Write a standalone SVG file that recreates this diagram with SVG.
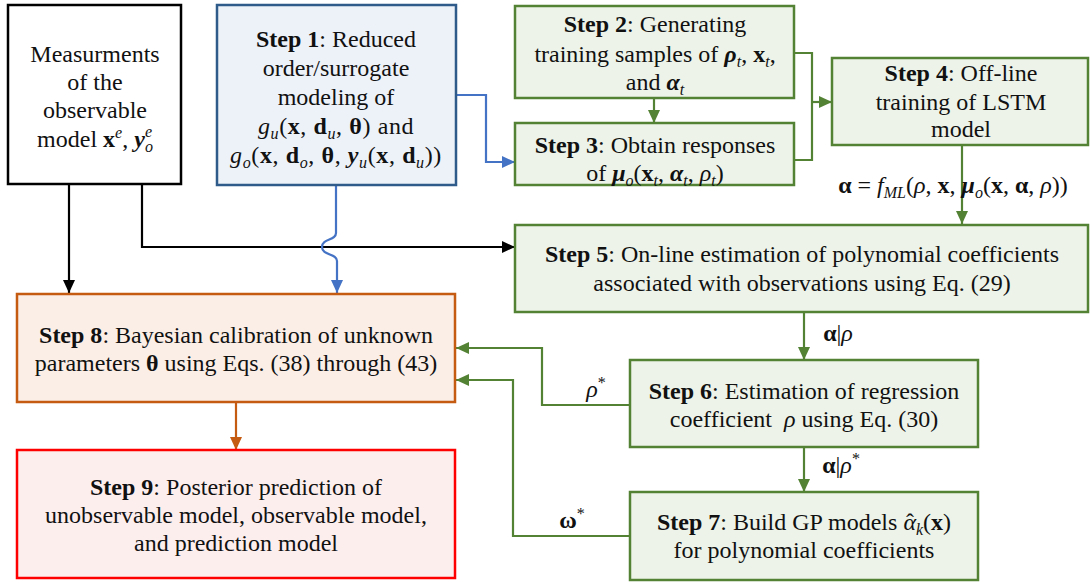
<svg xmlns="http://www.w3.org/2000/svg" width="1090" height="583" viewBox="0 0 1090 583" font-family="'Liberation Serif', Tinos, 'DejaVu Serif', serif">
<style>
text{font-family:'Liberation Serif',Tinos,'DejaVu Serif',serif;font-size:24px;fill:#111;text-anchor:middle}
.b{font-weight:bold}
.i{font-style:italic}
.bi{font-weight:bold;font-style:italic}
.s{font-size:16px}
.box{stroke-width:2.5}
.g{fill:#edf3e9;stroke:#548235}
.conn path{fill:none;stroke-width:2.2}
.k{stroke:#000}
.bl{stroke:#4472c4}
.gr{stroke:#548235}
.or{stroke:#c55a11}
</style>
<defs>
<marker id="ak" markerUnits="userSpaceOnUse" markerWidth="14" markerHeight="12" refX="13" refY="6" orient="auto"><path d="M0,0 L13,6 L0,12 z" fill="#000"/></marker>
<marker id="ab" markerUnits="userSpaceOnUse" markerWidth="14" markerHeight="12" refX="13" refY="6" orient="auto"><path d="M0,0 L13,6 L0,12 z" fill="#4472c4"/></marker>
<marker id="ag" markerUnits="userSpaceOnUse" markerWidth="14" markerHeight="12" refX="13" refY="6" orient="auto"><path d="M0,0 L13,6 L0,12 z" fill="#548235"/></marker>
<marker id="ao" markerUnits="userSpaceOnUse" markerWidth="14" markerHeight="12" refX="13" refY="6" orient="auto"><path d="M0,0 L13,6 L0,12 z" fill="#c55a11"/></marker>
</defs>
<rect width="1090" height="583" fill="#fff"/>

<g id="conn" class="conn">
<path class="k" d="M69,184 L69,293" marker-end="url(#ak)"/>
<path class="k" d="M142,184 L142,247 L515,247" marker-end="url(#ak)"/>
<path class="bl" d="M456,95 L486,95 L486,162 L515,162" marker-end="url(#ab)"/>
<path class="bl" d="M336,185 L336,233 C336,241 322,238 322,247 C322,256 337,253 337,261 L337,293" marker-end="url(#ab)"/>
<path class="gr" d="M654,98 L654,123" marker-end="url(#ag)"/>
<path class="gr" d="M794,53 L812,53 L812,160 L794,160"/>
<path class="gr" d="M812,102 L832,102" marker-end="url(#ag)"/>
<path class="gr" d="M962,145 L962,224" marker-end="url(#ag)"/>
<path class="gr" d="M804,312 L804,360" marker-end="url(#ag)"/>
<path class="gr" d="M804,447 L804,492" marker-end="url(#ag)"/>
<path class="gr" d="M630,405 L542,405 L542,348 L456,348" marker-end="url(#ag)"/>
<path class="gr" d="M630,536 L513,536 L513,380 L456,380" marker-end="url(#ag)"/>
<path class="or" d="M236,402 L236,450" marker-end="url(#ao)"/>
<text x="953" y="193"><tspan class="b">α</tspan> = <tspan class="i">f</tspan><tspan class="i s" baseline-shift="-5">ML</tspan>(<tspan class="i">ρ</tspan>, <tspan class="b">x</tspan>, <tspan class="bi">μ</tspan><tspan class="i s" baseline-shift="-5">o</tspan>(<tspan class="b">x</tspan>, <tspan class="b">α</tspan>, <tspan class="i">ρ</tspan>))</text>
<text x="838" y="341"><tspan class="b">α</tspan>|<tspan class="i">ρ</tspan></text>
<text x="841" y="473"><tspan class="b">α</tspan>|<tspan class="i">ρ</tspan><tspan class="s" baseline-shift="9">*</tspan></text>
<text x="596" y="397"><tspan class="i">ρ</tspan><tspan class="s" baseline-shift="9">*</tspan></text>
<text x="572" y="528"><tspan class="b">ω</tspan><tspan class="s" baseline-shift="9">*</tspan></text>
</g>

<g id="measurements">
<rect x="8" y="5" width="173" height="179" fill="#fff" stroke="#000" class="box"/>
<text x="95" y="62">Measurments</text>
<text x="95" y="90">of the</text>
<text x="95" y="118">observable</text>
<text x="95" y="147">model <tspan class="b">x</tspan><tspan class="i s" baseline-shift="9">e</tspan>, <tspan class="bi">y</tspan><tspan class="i s" baseline-shift="-5">o</tspan><tspan class="i s" dx="-8" baseline-shift="10">e</tspan></text>
</g>

<g id="step1">
<rect x="217" y="5" width="239" height="180" fill="#edf2f9" stroke="#2f5b8a" class="box"/>
<text x="336" y="47"><tspan class="b">Step 1</tspan>: Reduced</text>
<text x="336" y="76">order/surrogate</text>
<text x="336" y="105">modeling of</text>
<text x="336" y="134" letter-spacing="0.6"><tspan class="i">g</tspan><tspan class="i s" baseline-shift="-5">u</tspan>(<tspan class="b">x</tspan>, <tspan class="b">d</tspan><tspan class="i s" baseline-shift="-5">u</tspan>, <tspan class="b">θ</tspan>) and</text>
<text x="336" y="163" letter-spacing="0.6"><tspan class="i">g</tspan><tspan class="i s" baseline-shift="-5">o</tspan>(<tspan class="b">x</tspan>, <tspan class="b">d</tspan><tspan class="i s" baseline-shift="-5">o</tspan>, <tspan class="b">θ</tspan>, <tspan class="bi">y</tspan><tspan class="i s" baseline-shift="-5">u</tspan>(<tspan class="b">x</tspan>, <tspan class="b">d</tspan><tspan class="i s" baseline-shift="-5">u</tspan>))</text>
</g>

<g id="step2">
<rect x="515" y="6" width="279" height="92" class="box g"/>
<text x="655" y="32"><tspan class="b">Step 2</tspan>: Generating</text>
<text x="655" y="62">training samples of <tspan class="bi">ρ</tspan><tspan class="i s" baseline-shift="-5">t</tspan>, <tspan class="b">x</tspan><tspan class="i s" baseline-shift="-5">t</tspan>,</text>
<text x="655" y="90">and <tspan class="bi">α</tspan><tspan class="i s" baseline-shift="-5">t</tspan></text>
</g>

<g id="step3">
<rect x="515" y="123" width="279" height="62" class="box g"/>
<text x="655" y="153"><tspan class="b">Step 3</tspan>: Obtain responses</text>
<text x="655" y="181">of <tspan class="bi">μ</tspan><tspan class="i s" baseline-shift="-5">o</tspan>(<tspan class="b">x</tspan><tspan class="i s" baseline-shift="-5">t</tspan>, <tspan class="bi">α</tspan><tspan class="i s" baseline-shift="-5">t</tspan>, <tspan class="i">ρ</tspan><tspan class="i s" baseline-shift="-5">t</tspan>)</text>
</g>

<g id="step4">
<rect x="832" y="58" width="256" height="87" class="box g"/>
<text x="961" y="81"><tspan class="b">Step 4</tspan>: Off-line</text>
<text x="961" y="110">training of LSTM</text>
<text x="961" y="137">model</text>
</g>

<g id="step5">
<rect x="515" y="225" width="573" height="87" class="box g"/>
<text x="802" y="262"><tspan class="b">Step 5</tspan>: On-line estimation of polynomial coefficients</text>
<text x="802" y="291">associated with observations using Eq. (29)</text>
</g>

<g id="step6">
<rect x="630" y="360" width="348" height="87" class="box g"/>
<text x="804" y="399"><tspan class="b">Step 6</tspan>: Estimation of regression</text>
<text x="804" y="427">coefficient&#160; <tspan class="i">ρ</tspan> using Eq. (30)</text>
</g>

<g id="step7">
<rect x="630" y="492" width="348" height="88" class="box g"/>
<text x="804" y="530"><tspan class="b">Step 7</tspan>: Build GP models <tspan class="i">α</tspan><tspan dx="-10">ˆ</tspan><tspan class="i s" dx="2" baseline-shift="-5">k</tspan>(<tspan class="b">x</tspan>)</text>
<text x="804" y="558">for polynomial coefficients</text>
</g>

<g id="step8">
<rect x="17" y="294" width="438" height="108" fill="#fbeee6" stroke="#c55a11" class="box"/>
<text x="236" y="343"><tspan class="b">Step 8</tspan>: Bayesian calibration of unknown</text>
<text x="236" y="371">parameters <tspan class="b">θ</tspan> using Eqs. (38) through (43)</text>
</g>

<g id="step9">
<rect x="17" y="450" width="438" height="128" fill="#fdeeee" stroke="#ff0000" class="box"/>
<text x="236" y="495"><tspan class="b">Step 9</tspan>: Posterior prediction of</text>
<text x="236" y="523">unobservable model, observable model,</text>
<text x="236" y="551">and prediction model</text>
</g>
</svg>
